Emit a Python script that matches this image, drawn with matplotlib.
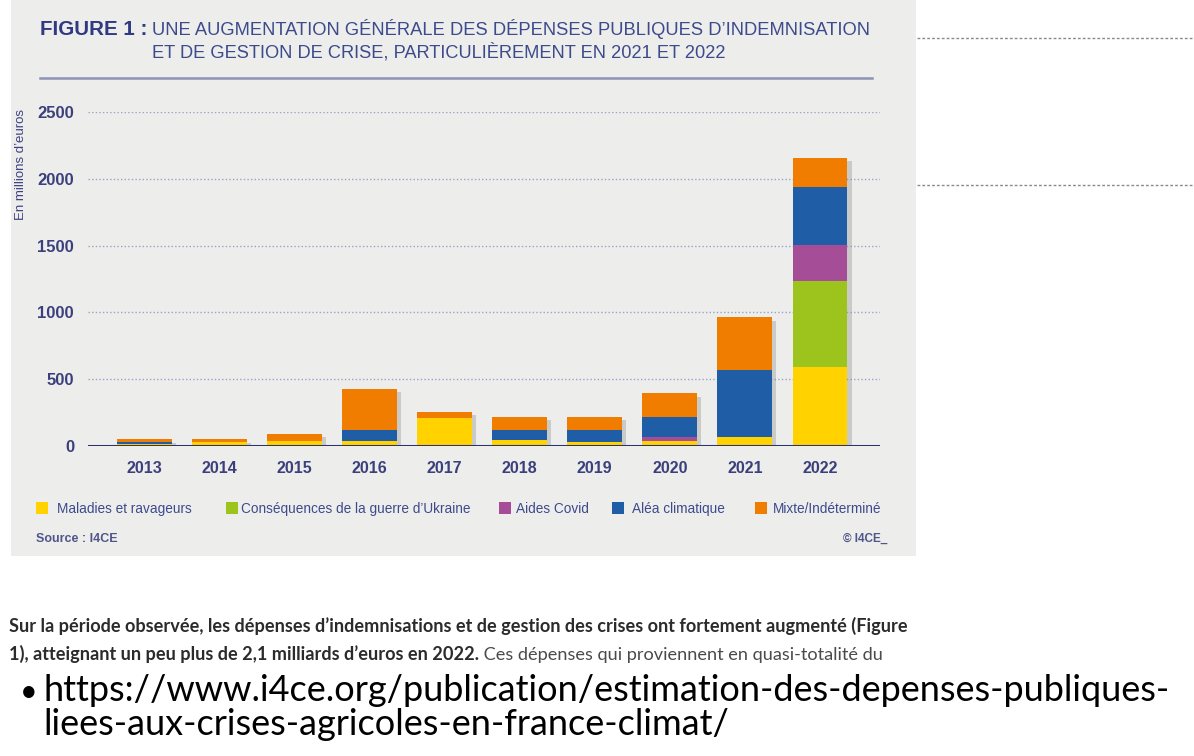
import matplotlib
matplotlib.use("Agg")
import matplotlib.pyplot as plt
import matplotlib.patheffects as pe
from matplotlib.patches import Rectangle
from matplotlib.lines import Line2D
import numpy as np

# ---------------- data ----------------
years = ["2013", "2014", "2015", "2016", "2017", "2018", "2019", "2020", "2021", "2022"]
maladies = [18, 28, 37, 40, 208, 45, 30, 35, 65, 588]
ukraine = [0, 0, 0, 0, 0, 0, 0, 0, 0, 645]
covid = [0, 0, 0, 0, 0, 0, 0, 35, 0, 270]
alea = [12, 0, 0, 80, 0, 75, 90, 150, 505, 435]
mixte = [20, 22, 56, 310, 50, 100, 100, 175, 393, 220]
series_labels = ["Maladies et ravageurs", "Conséquences de la guerre d\u2019Ukraine",
                 "Aides Covid", "Aléa climatique", "Mixte/Indéterminé"]
series_colors = ["#ffd200", "#9dc41c", "#a64d98", "#1f5ea6", "#f07c00"]
yticks = [0, 500, 1000, 1500, 2000, 2500]

title_bold = "FIGURE 1 :"
title_l1 = "UNE AUGMENTATION GÉNÉRALE DES DÉPENSES PUBLIQUES D\u2019INDEMNISATION"
title_l2 = "ET DE GESTION DE CRISE, PARTICULIÈREMENT EN 2021 ET 2022"
ylabel = "En millions d\u2019euros"
source = "Source : I4CE"
copyright_txt = "\u00a9 I4CE_"
para1 = "Sur la période observée, les dépenses d\u2019indemnisations et de gestion des crises ont fortement augmenté (Figure"
para2_bold = "1), atteignant un peu plus de 2,1 milliards d\u2019euros en 2022."
para2_reg = " Ces dépenses qui proviennent en quasi-totalité du"
url1 = "https://www.i4ce.org/publication/estimation-des-depenses-publiques-"
url2 = "liees-aux-crises-agricoles-en-france-climat/"

# ---------------- figure ----------------
W, H = 1194, 756
fig = plt.figure(figsize=(W / 100, H / 100), dpi=100)
fig.patch.set_facecolor("white")
renderer = fig.canvas.get_renderer()

def fx(x):
    return x / W

def fy(y):
    return 1 - y / H

def ftext(x, y, s, width=None, **kw):
    t = fig.text(fx(x), fy(y), s, **kw)
    if width is not None:
        bb = t.get_window_extent(renderer=renderer)
        t.set_fontsize(t.get_fontsize() * width / bb.width)
    return t

# panel background
fig.patches.append(Rectangle((fx(11), fy(556)), fx(916) - fx(11), 1 - fy(556),
                             transform=fig.transFigure, facecolor="#edeeeb",
                             edgecolor="none", zorder=-5))

# dotted lines on the right
for yy in (38, 185):
    fig.lines.append(Line2D([fx(917), 1.0], [fy(yy), fy(yy)], transform=fig.transFigure,
                            color="#8a8a8a", lw=1.0, linestyle=(0, (2, 1.5))))

# title separator
fig.lines.append(Line2D([fx(40), fx(872)], [fy(78), fy(78)], transform=fig.transFigure,
                        color="#8e92b6", lw=1.8))

navy = "#2f3a80"
navy2 = "#3d4a8c"
cond = ["Liberation Sans Narrow", "Liberation Sans"]

# title
ftext(40, 35, title_bold, width=107, family="Liberation Sans", weight="bold",
      color=navy, fontsize=14, va="baseline")
ftext(152, 35, title_l1, width=718, family=cond,
      color=navy2, fontsize=14, va="baseline")
ftext(152, 58, title_l2, width=576, family=cond,
      color=navy2, fontsize=14, va="baseline")

# ---------------- axes ----------------
ax = fig.add_axes([fx(88), fy(446), fx(880) - fx(88), fy(112) - fy(446)])
ax.set_facecolor("none")
ax.set_zorder(2)
x = np.arange(len(years))
stack = [maladies, ukraine, covid, alea, mixte]
totals = np.sum(np.array(stack, dtype=float), axis=0)

# soft drop shadow behind each full column
shadow_bars = ax.bar(x, totals, width=0.73, color="none", linewidth=0, zorder=2)
for b in shadow_bars:
    b.set_path_effects([pe.SimplePatchShadow(offset=(3, -2.5), shadow_rgbFace="#8a8a8a",
                                             alpha=0.35)])

bottom = np.zeros(len(years))
for vals, col, lab in zip(stack, series_colors, series_labels):
    v = np.array(vals, dtype=float)
    ax.bar(x, v, width=0.73, bottom=bottom, color=col, label=lab, zorder=3,
           linewidth=0)
    bottom += v

ax.set_xlim(-0.75, 9.8)
ax.set_ylim(0, 2500)
ax.set_yticks(yticks)
ax.set_yticklabels([str(v) for v in yticks])
ax.set_xticks(x)
ax.set_xticklabels(years)
for s in ax.spines.values():
    s.set_visible(False)
ax.tick_params(axis="both", length=0)
ax.tick_params(axis="y", pad=10)
ax.tick_params(axis="x", pad=11)
for lab in ax.get_yticklabels() + ax.get_xticklabels():
    lab.set_fontfamily("Liberation Sans")
    lab.set_fontweight("bold")
    lab.set_color("#3b3f7c")
for lab in ax.get_yticklabels():
    lab.set_fontsize(12)
for lab in ax.get_xticklabels():
    lab.set_fontsize(11.5)
for v in yticks[1:]:
    ax.axhline(v, color="#9aa0cc", lw=1.0, linestyle=(0, (1, 1.6)), zorder=1)
ax.axhline(0, color="#2b3270", lw=2.2, zorder=4)

# y label
ftext(21, 165, ylabel, family="Liberation Sans", fontsize=9.5, color="#3d4180",
      rotation=90, ha="center", va="center")

# ---------------- legend ----------------
leg_sq_x = [36, 226, 499, 612, 755]
leg_tx_x = [57, 241, 516, 632, 773]
fs_leg = None
leg_texts = []
for i, (lab, col) in enumerate(zip(series_labels, series_colors)):
    fig.patches.append(Rectangle((fx(leg_sq_x[i]), fy(514)), fx(11.5), 12 / H,
                                 transform=fig.transFigure, facecolor=col,
                                 edgecolor="none"))
    t = ftext(leg_tx_x[i], 513, lab, family=cond,
              fontsize=10, color=navy2, va="baseline")
    leg_texts.append(t)
    if i == 1:
        bb = t.get_window_extent(renderer=renderer)
        fs_leg = 10 * 229 / bb.width
for t in leg_texts:
    t.set_fontsize(fs_leg)

ftext(36, 539, source, width=82, family="Liberation Sans", weight="bold",
      fontsize=9, color="#50558a", va="center")
ftext(843, 539, copyright_txt, width=45, family="Liberation Sans", weight="bold",
      fontsize=9, color="#50558a", va="center")

# ---------------- bottom text ----------------
tp = ftext(9, 632, para1, width=896, family="Lato", weight="bold", fontsize=11,
           color="#2b2b2b", va="baseline")
tb = ftext(9, 660, para2_bold, family="Lato", weight="bold",
           fontsize=tp.get_fontsize(), color="#2b2b2b", va="baseline")
bbb = tb.get_window_extent(renderer=renderer)
ftext(bbb.x1, 660, para2_reg, family="Lato", fontsize=tb.get_fontsize(),
      color="#4a4a4a", va="baseline")

ftext(20, 701, "\u2022", family="Lato", fontsize=22, color="black", va="baseline")
tu = ftext(43, 701, url1, width=1132, family="Lato", fontsize=24, color="black",
           va="baseline")
ftext(43, 735, url2, family="Lato", fontsize=tu.get_fontsize(), color="black",
      va="baseline")

fig.savefig("out.png", dpi=100, facecolor="white")
